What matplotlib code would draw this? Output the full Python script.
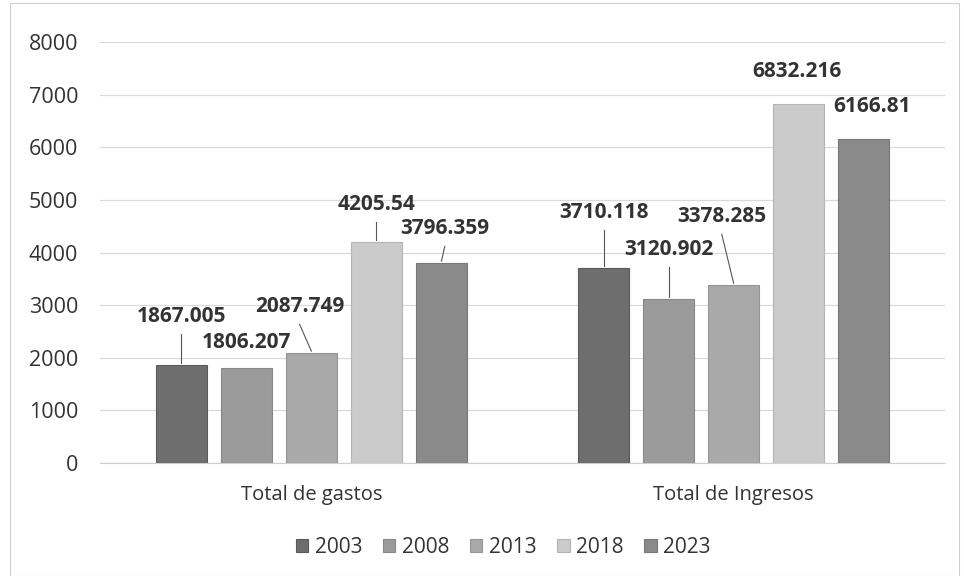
import matplotlib.pyplot as plt
import numpy as np
from matplotlib.patches import Rectangle

plt.rcParams['font.family'] = ['Open Sans', 'DejaVu Sans']

categories = ['Total de gastos', 'Total de Ingresos']
years = ['2003', '2008', '2013', '2018', '2023']
values = {
    '2003': [1867.005, 3710.118],
    '2008': [1806.207, 3120.902],
    '2013': [2087.749, 3378.285],
    '2018': [4205.54, 6832.216],
    '2023': [3796.359, 6166.81],
}
label_text = {
    '2003': ['1867.005', '3710.118'],
    '2008': ['1806.207', '3120.902'],
    '2013': ['2087.749', '3378.285'],
    '2018': ['4205.54', '6832.216'],
    '2023': ['3796.359', '6166.81'],
}
# where each data label sits: (x shift from bar centre in category units, height in data units)
label_pos = {
    '2003': [(0.0, 2776), (0.0, 4753)],
    '2008': [(0.0, 2300), (0.0, 4049)],
    '2013': [(-0.028, 2966), (-0.028, 4677)],
    '2018': [(0.0, 4905), (-0.005, 7433)],
    '2023': [(0.008, 4449), (0.019, 6768)],
}
leader = {
    '2003': [True, True],
    '2008': [False, True],
    '2013': [True, True],
    '2018': [True, False],
    '2023': [True, False],
}
colors = ['#6e6e6e', '#9b9b9b', '#a9a9a9', '#cbcbcb', '#8a8a8a']
edges = ['#5a5a5a', '#888888', '#959595', '#b5b5b5', '#777777']

fig = plt.figure(figsize=(9.64, 5.76), dpi=100)
ax = fig.add_axes([0.104, 0.196, 0.876, 0.731])

x = np.arange(len(categories))
step = 0.154
width = 0.121
for i, yr in enumerate(years):
    pos = x + (i - 2) * step
    ax.bar(pos, values[yr], width, color=colors[i], edgecolor=edges[i], linewidth=0.8,
           label=yr, zorder=3)
    for j in range(len(categories)):
        lx = pos[j] + label_pos[yr][j][0]
        ly = label_pos[yr][j][1]
        ax.text(lx, ly, label_text[yr][j], ha='center', va='center', fontsize=15,
                fontweight='bold', color='#333333', zorder=5)
        if leader[yr][j]:
            ax.plot([lx, pos[j]], [ly - 330, values[yr][j] + 40],
                    color='#555555', lw=0.8, zorder=4)

ax.set_xlim(-0.5, 1.5)
ax.set_ylim(0, 8000)
ax.set_yticks(range(0, 8001, 1000))
ax.set_xticks(x)
ax.set_xticklabels(categories, fontsize=14.5, color='#333333')
ax.tick_params(axis='y', labelsize=15.5, colors='#333333', length=0, pad=16)
ax.tick_params(axis='x', length=0, pad=16)
ax.yaxis.grid(True, color='#d9d9d9', lw=0.9, zorder=0)
for s in ['top', 'right', 'left']:
    ax.spines[s].set_visible(False)
ax.spines['bottom'].set_color('#cfcfcf')

leg = fig.legend(loc='center', bbox_to_anchor=(0.522, 0.05), ncol=5, frameon=False,
                 fontsize=15, handlelength=0.6, handleheight=0.6, handletextpad=0.3,
                 columnspacing=1.0, labelcolor='#333333')

fig.patches.append(Rectangle((0.01, 0.0), 0.985, 0.995, transform=fig.transFigure,
                             fill=False, edgecolor='#d0d0d0', lw=0.8))

fig.savefig('out.png', dpi=100, facecolor='white')
